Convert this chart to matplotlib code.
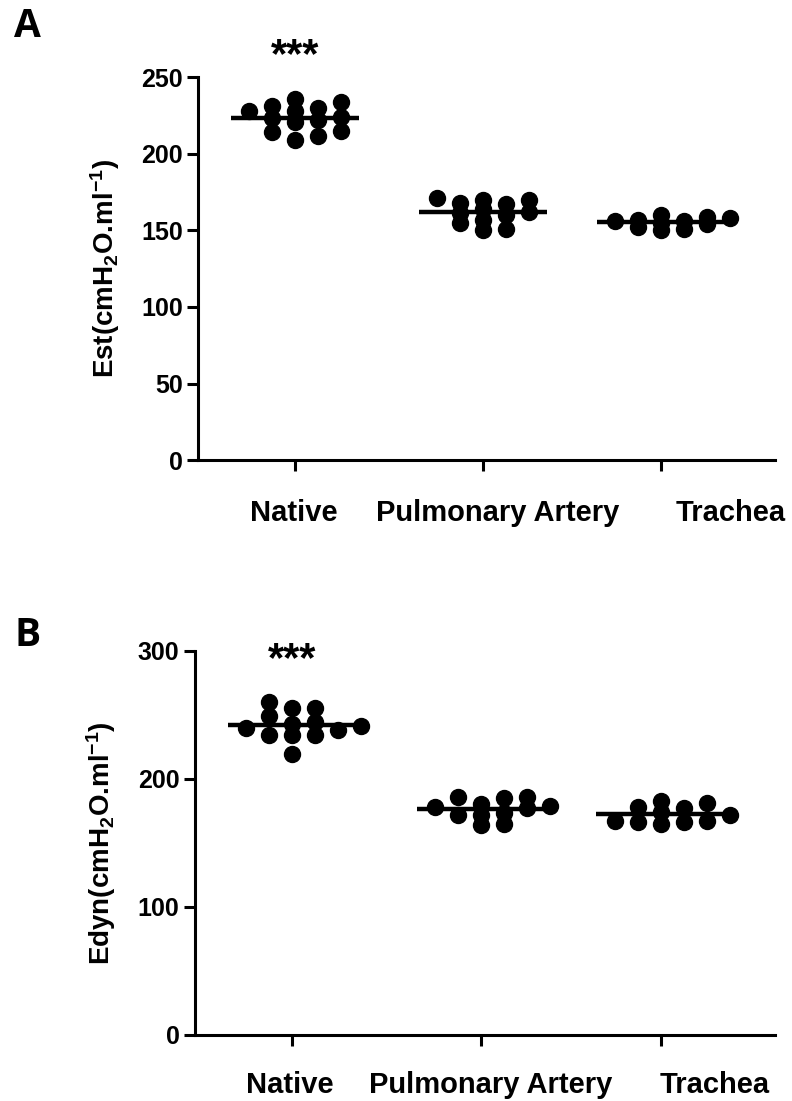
import numpy as np
import matplotlib
matplotlib.use("Agg")
import matplotlib.pyplot as plt

plt.rcParams['font.family'] = ['Liberation Sans', 'DejaVu Sans']
plt.rcParams['font.weight'] = 'bold'
plt.rcParams['axes.labelweight'] = 'bold'
plt.rcParams['mathtext.fontset'] = 'custom'
plt.rcParams['mathtext.rm'] = 'Liberation Sans:bold'
plt.rcParams['mathtext.bf'] = 'Liberation Sans:bold'
plt.rcParams['mathtext.default'] = 'bf'

groups = ["Native", "Pulmonary Artery", "Trachea"]
group_pos = [1, 2, 2.95]

# panel A: static elastance
est_native = [231, 236, 228, 228, 229.5, 234, 214, 209, 211.5, 215, 221, 224, 222, 223]
est_pa = [170, 168, 170, 167, 171, 164, 162, 160, 161, 155, 151, 157, 150]
est_trachea = [159, 158, 160, 157, 156, 155, 154, 152, 150, 151, 156]

# panel B: dynamic elastance
edyn_native = [255, 260, 255, 249, 234, 234, 234, 219, 243, 241, 238, 240, 244]
edyn_pa = [186, 185, 186, 172, 172, 173, 165, 164, 178, 180, 177, 179]
edyn_trachea = [181, 183, 177, 178, 166, 167, 166, 165, 167, 174, 172]


def swarm(values, step, gap):
    # grid-style column scatter: shift a point sideways while it clashes
    values = np.asarray(values, dtype=float)
    offs = np.zeros(len(values))
    placed = []
    for i in np.argsort(values):
        v = values[i]
        for k in [0, 1, -1, 2, -2, 3, -3, 4, -4]:
            if all(not (pk == k and abs(pv - v) < gap) for pk, pv in placed):
                break
        placed.append((k, v))
        offs[i] = k * step
    return offs


def panel(ax, data, ymax, yticks, ylabel, label_dx, label_dy, gaps):
    for pos, vals, gap in zip(group_pos, data, gaps):
        xs = pos + swarm(vals, 0.122, gap)
        ax.plot(xs, vals, 'o', color='black', markersize=11.5, zorder=3)
        ax.hlines(np.mean(vals), pos - 0.34, pos + 0.34, color='black', lw=3.2, zorder=4)
    ax.set_xlim(0.484, 3.553)
    ax.set_ylim(0, ymax)
    ax.set_yticks(yticks)
    ax.set_xticks(group_pos)
    ax.set_xticklabels([])
    # category labels sit a little right of their ticks, as in the original
    for pos, name, dx in zip(group_pos, groups, label_dx):
        ax.annotate(name, xy=(pos, 0), xycoords=('data', 'axes fraction'),
                    xytext=(dx, label_dy), textcoords='offset points',
                    ha='center', va='center', fontsize=21, fontweight='bold')
    ax.tick_params(axis='x', length=8, width=2.2)
    ax.tick_params(axis='y', length=8, width=2.2, labelsize=18, pad=3)
    for s in ['top', 'right']:
        ax.spines[s].set_visible(False)
    for s in ['left', 'bottom']:
        ax.spines[s].set_linewidth(2.2)
    ax.set_ylabel(ylabel, fontsize=20, labelpad=14)
    ax.annotate('***', xy=(group_pos[0], max(data[0])), xytext=(0, 16),
                textcoords='offset points', ha='center', va='bottom', fontsize=30)


fig = plt.figure(figsize=(7.92, 11.01), dpi=100)
ax1 = fig.add_axes([0.25, 0.582, 0.728, 0.348])
ax2 = fig.add_axes([0.246, 0.060, 0.732, 0.349])

panel(ax1, [est_native, est_pa, est_trachea], 250, [0, 50, 100, 150, 200, 250],
      r'Est(cmH$_2$O.ml$^{-1}$)', [-1, 11, 50], -38, [7, 6, 5])
panel(ax2, [edyn_native, edyn_pa, edyn_trachea], 300, [0, 100, 200, 300],
      r'Edyn(cmH$_2$O.ml$^{-1}$)', [-2, 7, 39], -36, [8, 8, 8])

fig.text(0.018, 0.976, 'A', fontsize=28, fontweight='bold', family='Open Sans', va='center')
fig.text(0.018, 0.423, 'B', fontsize=28, fontweight='bold', family='Open Sans', va='center')

fig.savefig('out.png', dpi=100)
